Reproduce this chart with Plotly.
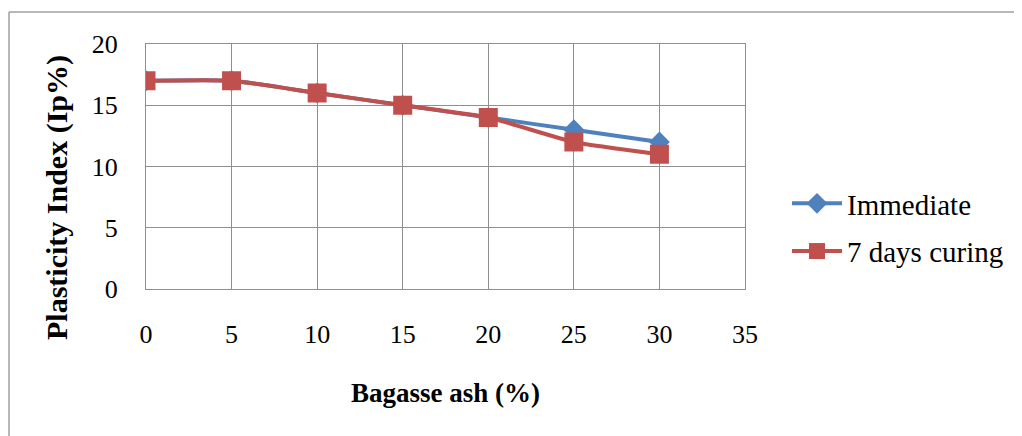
import plotly.graph_objects as go

bagasse_ash = [0, 5, 10, 15, 20, 25, 30]
immediate = [17, 17, 16, 15, 14, 13, 12]
cured_7_days = [17, 17, 16, 15, 14, 12, 11]
x_ticks = [0, 5, 10, 15, 20, 25, 30, 35]
y_ticks = [0, 5, 10, 15, 20]

FONT = "Liberation Serif"
GRID = "#8f8f8f"

fig = go.Figure()
fig.add_trace(go.Scatter(
    x=bagasse_ash, y=immediate, name="Immediate", mode="lines+markers",
    line=dict(color="#4F81BD", width=4, shape="spline", smoothing=0.5),
    marker=dict(symbol="diamond", size=16, color="#4F81BD"),
    legendgroup="a"))
fig.add_trace(go.Scatter(
    x=bagasse_ash, y=cured_7_days, name="7 days curing", mode="lines+markers",
    line=dict(color="#C0504D", width=4, shape="spline", smoothing=0.5),
    marker=dict(symbol="square", size=19, color="#C0504D"),
    legendgroup="b"))

# page offset of 8px (body margin) is subtracted from all reference positions
O = 8
W, H = 1022 - O, 436 - O
L, R, T, B = 146 - O, 745 - O, 44 - O, 289 - O
pw, ph = R - L, B - T

def px(x):
    return (x - O - L) / pw

def py(y):
    return (B - (y - O)) / ph

fig.update_layout(
    width=W, height=H,
    margin=dict(l=L, r=W - R, t=T, b=H - B),
    paper_bgcolor="white", plot_bgcolor="white",
    font=dict(family=FONT, size=26, color="black"),
    showlegend=True,
    legend=dict(x=px(787), y=py(178), xanchor="left", yanchor="top",
                font=dict(family=FONT, size=29, color="black"),
                tracegroupgap=7, itemwidth=50, bgcolor="rgba(0,0,0,0)"),
    xaxis=dict(range=[0, 35], tickvals=x_ticks, showgrid=True, gridcolor=GRID, gridwidth=1.3,
               showline=True, linecolor=GRID, linewidth=1.3, mirror=True, zeroline=False,
               ticks="outside", ticklen=22, tickcolor="rgba(0,0,0,0)",
               tickfont=dict(family=FONT, size=26)),
    yaxis=dict(range=[0, 20], tickvals=y_ticks, showgrid=True, gridcolor=GRID, gridwidth=1.3,
               showline=True, linecolor=GRID, linewidth=1.3, mirror=True, zeroline=False,
               ticks="outside", ticklen=22, tickcolor="rgba(0,0,0,0)",
               tickfont=dict(family=FONT, size=26)),
    annotations=[
        dict(text="<b>Plasticity Index (Ip%)</b>", xref="paper", yref="paper",
             x=px(57), y=py(198), xanchor="center", yanchor="middle",
             textangle=-90, showarrow=False,
             font=dict(family=FONT, size=30)),
        dict(text="<b>Bagasse ash (%)</b>", xref="paper", yref="paper",
             x=px(445), y=py(393), xanchor="center", yanchor="middle",
             showarrow=False, font=dict(family=FONT, size=27)),
    ],
    shapes=[
        dict(type="line", xref="paper", yref="paper",
             x0=px(9), x1=px(9), y0=py(12), y1=py(450),
             line=dict(color="#a0a0a0", width=1.5)),
        dict(type="line", xref="paper", yref="paper",
             x0=px(9), x1=px(1030), y0=py(12), y1=py(12),
             line=dict(color="#a0a0a0", width=1.5)),
    ],
)

fig.write_html("out.html")
